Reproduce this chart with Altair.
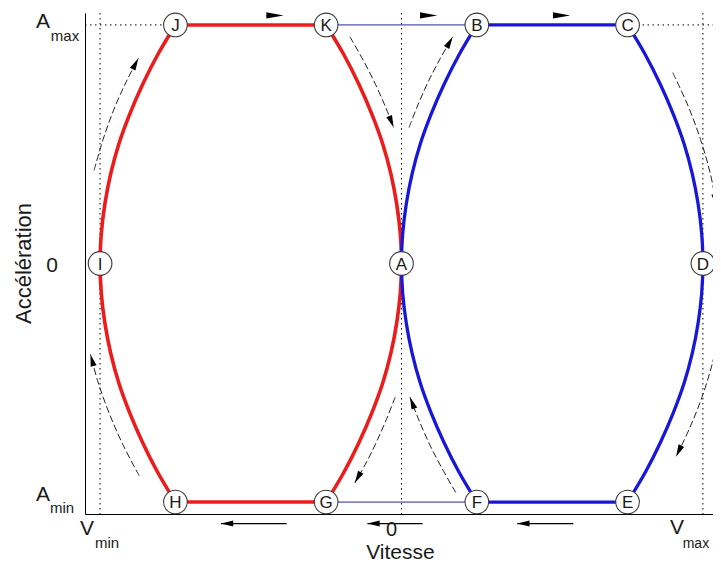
import math
import altair as alt
import pandas as pd

# ---------------- values ----------------
# acceleration levels along one arc, and how far the arc bends away (in velocity) from its apex
acc_levels = [-1, -0.875, -0.75, -0.625, -0.5, -0.375, -0.25, -0.125, 0,
              0.125, 0.25, 0.375, 0.5, 0.625, 0.75, 0.875, 1]
arc_depth = [0.25, 0.191, 0.141, 0.098, 0.062, 0.035, 0.016, 0.004, 0.0,
             0.004, 0.016, 0.035, 0.062, 0.098, 0.141, 0.191, 0.25]

point_names = ["A", "B", "C", "D", "E", "F", "G", "H", "I", "J", "K"]
point_v = [0, 0.25, 0.75, 1, 0.75, 0.25, -0.25, -0.75, -1, -0.75, -0.25]
point_a = [0, 1, 1, 0, -1, -1, -1, -1, 0, 1, 1]

v_ticks = [-1.0, 0.0, 1.0]   # Vmin, 0, Vmax
a_ticks = [-1.0, 0.0, 1.0]   # Amin, 0, Amax

# curved dashed arrows (tail -> head)
arrows = {
    "IJ": ([-1.020, -0.990, -0.956, -0.914, -0.873], [0.39, 0.52, 0.64, 0.76, 0.86]),
    "KA": ([-0.171, -0.126, -0.086, -0.051, -0.026], [0.95, 0.85, 0.75, 0.65, 0.57]),
    "AB": ([0.025, 0.053, 0.088, 0.129, 0.170], [0.57, 0.66, 0.76, 0.86, 0.95]),
    "CD": ([0.900, 0.951, 0.992, 1.024, 1.046], [0.80, 0.66, 0.52, 0.38, 0.24]),
    "DE": ([1.053, 1.029, 0.997, 0.956, 0.911], [-0.30, -0.43, -0.56, -0.69, -0.81]),
    "FA": ([0.180, 0.135, 0.094, 0.059, 0.028], [-0.96, -0.86, -0.76, -0.66, -0.56]),
    "AG": ([-0.021, -0.049, -0.080, -0.115, -0.155], [-0.56, -0.65, -0.74, -0.83, -0.92]),
    "HI": ([-0.870, -0.924, -0.969, -1.006, -1.032], [-0.89, -0.76, -0.63, -0.50, -0.38]),
}

top_arrow_v = [-0.391, 0.119, 0.560]
top_arrow_a = 1.04
bottom_arrow_head_v = [-0.599, -0.113, 0.384]
bottom_arrow_tail_v = [-0.381, 0.070, 0.570]
bottom_arrow_a = -1.09

# ---------------- layout ----------------
W, H = 628, 501
XDOM = [-1.05, 1.0335]
YDOM = [-1.05, 1.05]
sx = W / (XDOM[1] - XDOM[0])
sy = H / (YDOM[1] - YDOM[0])

RED = "#ec1c1c"
BLUE = "#1717dc"
TXT = "#1a1a1a"
FONT = "Liberation Sans"
HEAD = "M0,0L0.5,2L-0.5,2Z"          # tip at anchor, pointing up
HEAD_LONG = "M0,0L0.35,2L-0.35,2Z"

xs = alt.Scale(domain=XDOM, nice=False, zero=False)
ys = alt.Scale(domain=YDOM, nice=False, zero=False)
xaxis = alt.Axis(title=None, labels=False, ticks=False, grid=False,
                 domainColor="black", domainWidth=1)
yaxis = alt.Axis(title=None, labels=False, ticks=False, grid=False,
                 domainColor="black", domainWidth=1)


def X(f="v"):
    return alt.X(f, type="quantitative", scale=xs, axis=xaxis)


def Y(f="a"):
    return alt.Y(f, type="quantitative", scale=ys, axis=yaxis)


pts = {n: (v, a) for n, v, a in zip(point_names, point_v, point_a)}


def arc_rows(name, center, sign):
    return [dict(seg=name, order=i, v=center + sign * d, a=a)
            for i, (a, d) in enumerate(zip(acc_levels, arc_depth))]


def flat_rows(p, q):
    return [dict(seg=p + q, order=0, v=pts[p][0], a=pts[p][1]),
            dict(seg=p + q, order=1, v=pts[q][0], a=pts[q][1])]


blue_df = pd.DataFrame(arc_rows("FAB", 0, 1) + arc_rows("CDE", 1, -1)
                       + flat_rows("B", "C") + flat_rows("E", "F"))
red_df = pd.DataFrame(arc_rows("KAG", 0, -1) + arc_rows("HIJ", -1, 1)
                      + flat_rows("J", "K") + flat_rows("G", "H"))
thin_df = pd.DataFrame(flat_rows("K", "B") + flat_rows("G", "F"))

# dotted guides
vdot_df = pd.DataFrame({"v": v_ticks})
hdot_df = pd.DataFrame({"v": [XDOM[0], pts["C"][0]], "v2": [pts["J"][0], XDOM[1]],
                        "a": [a_ticks[2], a_ticks[2]]})

# curved arrows
arrow_rows, head_rows = [], []
for name, (vs, as_) in arrows.items():
    for i, (v, a) in enumerate(zip(vs, as_)):
        arrow_rows.append(dict(seg=name, order=i, v=v, a=a))
    dx = (vs[-1] - vs[-2]) * sx
    dy = -(as_[-1] - as_[-2]) * sy
    ang = (math.degrees(math.atan2(dx, -dy)) + 360) % 360
    head_rows.append(dict(v=vs[-1], a=as_[-1], ang=ang))
arrow_df = pd.DataFrame(arrow_rows)
head_df = pd.DataFrame(head_rows)

top_df = pd.DataFrame({"v": top_arrow_v, "a": [top_arrow_a] * len(top_arrow_v)})
bot_df = pd.DataFrame({"v": bottom_arrow_head_v, "v2": bottom_arrow_tail_v,
                       "a": [bottom_arrow_a] * len(bottom_arrow_head_v)})
pts_df = pd.DataFrame({"name": point_names, "v": point_v, "a": point_a})

layers = []

layers.append(alt.Chart(vdot_df).mark_rule(color="black", strokeWidth=1, strokeDash=[1.5, 3.5])
              .encode(x=X(), y=alt.value(0), y2=alt.value(H)))
layers.append(alt.Chart(hdot_df).mark_rule(color="black", strokeWidth=1, strokeDash=[1.5, 3.5])
              .encode(x=X(), x2="v2", y=Y()))
layers.append(alt.Chart(thin_df).mark_line(color="#2424b0", strokeWidth=1)
              .encode(x=X(), y=Y(), detail="seg:N", order="order:Q"))
layers.append(alt.Chart(red_df).mark_line(color=RED, strokeWidth=3.6, interpolate="catmull-rom")
              .encode(x=X(), y=Y(), detail="seg:N", order="order:Q"))
layers.append(alt.Chart(blue_df).mark_line(color=BLUE, strokeWidth=3.3, interpolate="catmull-rom")
              .encode(x=X(), y=Y(), detail="seg:N", order="order:Q"))
layers.append(alt.Chart(arrow_df).mark_line(color="#222222", strokeWidth=1, strokeDash=[7, 3],
                                            interpolate="catmull-rom")
              .encode(x=X(), y=Y(), detail="seg:N", order="order:Q"))
layers.append(alt.Chart(head_df).mark_point(shape=HEAD, filled=True, color="black", size=150, opacity=1)
              .encode(x=X(), y=Y(), angle=alt.Angle("ang:Q", scale=None)))
layers.append(alt.Chart(top_df).mark_point(shape=HEAD_LONG, filled=True, color="black", size=300,
                                           opacity=1, angle=90)
              .encode(x=X(), y=Y()))
layers.append(alt.Chart(bot_df).mark_rule(color="black", strokeWidth=1.2)
              .encode(x=X(), x2="v2", y=Y()))
layers.append(alt.Chart(bot_df).mark_point(shape=HEAD, filled=True, color="black", size=150,
                                           opacity=1, angle=270)
              .encode(x=X(), y=Y()))
layers.append(alt.Chart(pts_df).mark_point(shape="circle", filled=True, fill="white", color="white",
                                           stroke="#3a3a3a", strokeWidth=1.1, size=560, opacity=1)
              .encode(x=X(), y=Y()))
layers.append(alt.Chart(pts_df).mark_text(font=FONT, fontSize=17, color=TXT, baseline="middle",
                                          align="center", dy=1)
              .encode(x=X(), y=Y(), text="name:N"))


def label(text, v, a, dx, dy, size, angle=0):
    df = pd.DataFrame({"v": [v], "a": [a], "t": [text]})
    return alt.Chart(df).mark_text(font=FONT, fontSize=size, color=TXT, align="center",
                                   baseline="middle", dx=dx, dy=dy, angle=angle) \
        .encode(x=X(), y=Y(), text="t:N")


# y tick labels (anchored on the left axis)
layers += [
    label("A", XDOM[0], a_ticks[2], -42, -3, 21),
    label("max", XDOM[0], a_ticks[2], -20, 11, 15),
    label("0", XDOM[0], a_ticks[1], -33, 2, 21),
    label("A", XDOM[0], a_ticks[0], -42, -7, 21),
    label("min", XDOM[0], a_ticks[0], -23, 6, 15),
]
# x tick labels (anchored on the bottom axis)
layers += [
    label("V", v_ticks[0], YDOM[0], -13, 15, 21),
    label("min", v_ticks[0], YDOM[0], 7, 29, 15),
    label("0", v_ticks[1], YDOM[0], -10, 16, 20),
    label("V", v_ticks[2], YDOM[0], -26, 14, 21),
    label("max", v_ticks[2], YDOM[0], -7, 30, 14),
]
# axis titles
layers += [
    label("Vitesse", v_ticks[1], YDOM[0], -1, 39, 21),
    label("Accélération", XDOM[0], a_ticks[1], 0, -61, 22, angle=270),
]

chart = alt.layer(*layers).properties(
    width=W, height=H, autosize="none",
    padding={"left": 77, "top": 5, "right": 0, "bottom": 50},
    background="white",
).configure_view(stroke=None)

chart.save("out.html", embed_options={"renderer": "svg", "actions": False})
